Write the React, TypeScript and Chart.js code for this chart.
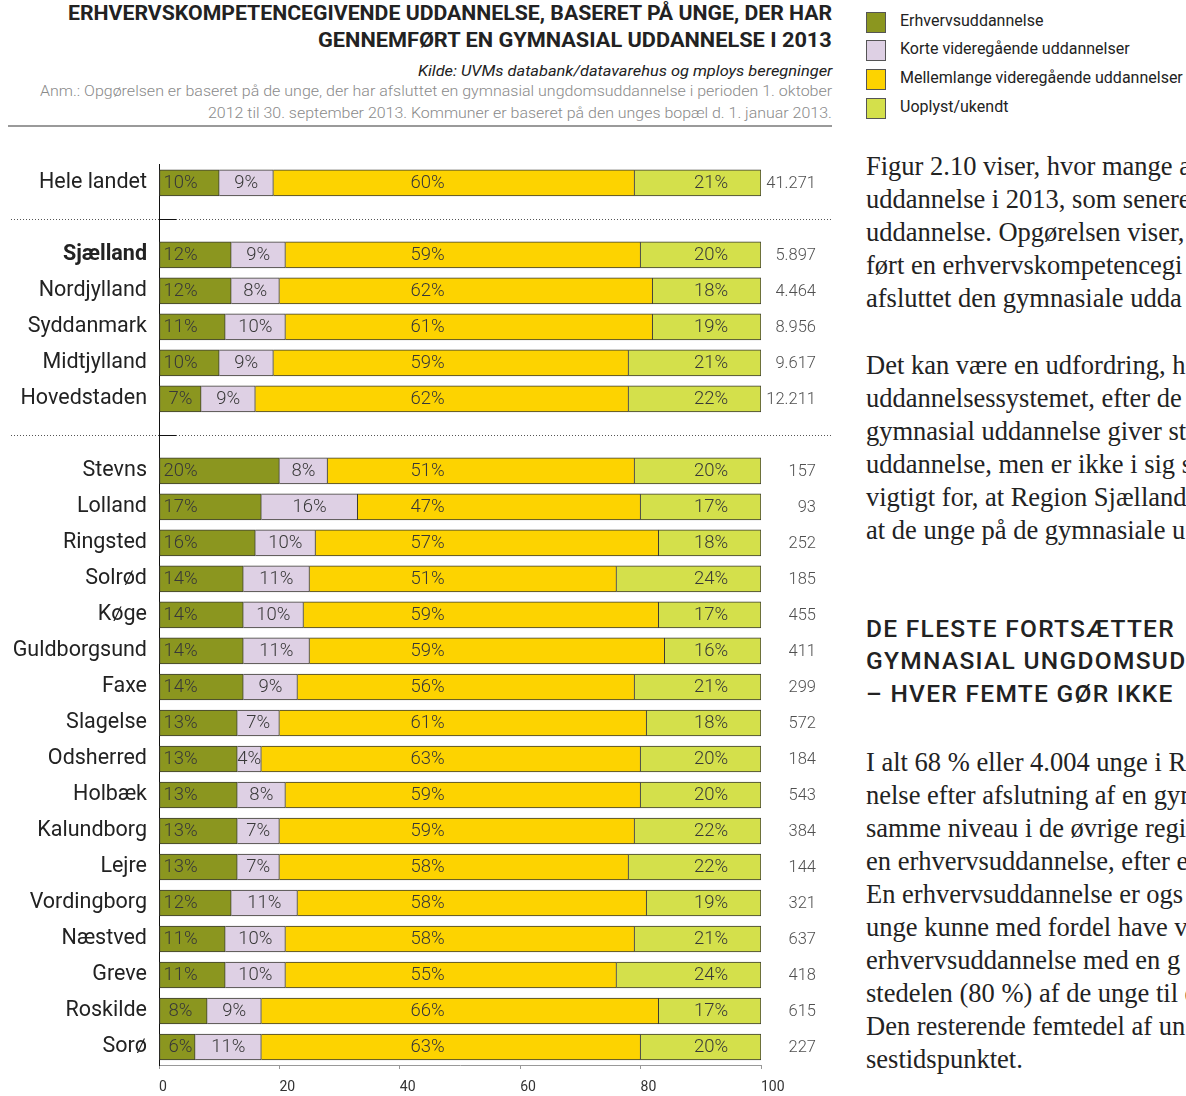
import React, { useEffect, useLayoutEffect, useRef, useState } from 'react';
import { Chart, registerables } from 'chart.js';

Chart.register(...registerables);

// ---------- data ----------
const categories = [
  'Hele landet', '', 'Sjælland', 'Nordjylland', 'Syddanmark', 'Midtjylland', 'Hovedstaden', '',
  'Stevns', 'Lolland', 'Ringsted', 'Solrød', 'Køge', 'Guldborgsund', 'Faxe', 'Slagelse', 'Odsherred',
  'Holbæk', 'Kalundborg', 'Lejre', 'Vordingborg', 'Næstved', 'Greve', 'Roskilde', 'Sorø',
];
const seriesNames = ['Erhvervsuddannelse', 'Korte videregående uddannelser', 'Mellemlange videregående uddannelser', 'Uoplyst/ukendt'];
const erhverv = [10, null, 12, 12, 11, 10, 7, null, 20, 17, 16, 14, 14, 14, 14, 13, 13, 13, 13, 13, 12, 11, 11, 8, 6];
const korte = [9, null, 9, 8, 10, 9, 9, null, 8, 16, 10, 11, 10, 11, 9, 7, 4, 8, 7, 7, 11, 10, 10, 9, 11];
const mellemlange = [60, null, 59, 62, 61, 59, 62, null, 51, 47, 57, 51, 59, 59, 56, 61, 63, 59, 59, 58, 58, 58, 55, 66, 63];
// printed labels of the last segment
const uoplystLabel = [21, null, 20, 18, 19, 21, 22, null, 20, 17, 18, 24, 17, 16, 21, 18, 20, 20, 22, 22, 19, 21, 24, 17, 20];
// drawn length of the last segment
const uoplystBar = [21, null, 20, 18, 18, 22, 22, null, 21, 20, 17, 24, 17, 16, 21, 19, 20, 20, 21, 22, 19, 21, 24, 17, 20];
const antal = [41271, null, 5897, 4464, 8956, 9617, 12211, null, 157, 93, 252, 185, 455, 411, 299, 572, 184, 543, 384, 144, 321, 637, 418, 615, 227];
const xMin = 0;
const xMax = 100;
const xStep = 20;

const COLORS = ['#8B961F', '#DED0E4', '#FDD300', '#D4E04B'];

const fmt = (n: number) => String(n).replace(/\B(?=(\d{3})+(?!\d))/g, '.');

// ---------- plugin for labels / separators ----------
const labelPlugin = {
  id: 'segLabels',
  afterDatasetsDraw(chart: any) {
    const { ctx, chartArea, scales } = chart;
    const yS = scales.y;
    ctx.save();
    // separators at empty categories
    categories.forEach((c, i) => {
      if (c !== '') return;
      const py = Math.round(yS.getPixelForValue(i)) + 0.5;
      ctx.lineWidth = 1;
      ctx.strokeStyle = '#555';
      ctx.setLineDash([1, 2]);
      ctx.beginPath();
      ctx.moveTo(11, py);
      ctx.lineTo(833, py);
      ctx.stroke();
      ctx.setLineDash([]);
      ctx.strokeStyle = '#111';
      ctx.beginPath();
      ctx.moveTo(chartArea.left, py);
      ctx.lineTo(chartArea.left + 17, py);
      ctx.stroke();
    });
    // segment labels
    ctx.font = '300 18.5px Roboto';
    ctx.fillStyle = '#383838';
    ctx.textBaseline = 'middle';
    ctx.textAlign = 'center';
    const labelSets = [erhverv, korte, mellemlange, uoplystLabel];
    labelSets.forEach((arr, di) => {
      const meta = chart.getDatasetMeta(di);
      meta.data.forEach((bar: any, i: number) => {
        const v = arr[i];
        if (v == null) return;
        const { x, base, y } = bar.getProps(['x', 'base', 'y'], true);
        let cx: number;
        if (di === 0) cx = base + 21;
        else if (di === 1) cx = (base + x) / 2;
        else if (di === 2) cx = chartArea.left + 268.5;
        else cx = x - 50;
        ctx.fillText(v + '%', cx, y);
      });
    });
    // counts on the right
    ctx.font = '300 16.5px Roboto';
    ctx.fillStyle = '#505050';
    ctx.textAlign = 'right';
    antal.forEach((n, i) => {
      if (n == null) return;
      ctx.fillText(fmt(n), chartArea.right + 55, yS.getPixelForValue(i) + 0.5);
    });
    ctx.restore();
  },
};

// ---------- text helpers ----------
function FitLine({ text, right, top, width, style }: any) {
  const ref = useRef<HTMLSpanElement>(null);
  const [scale, setScale] = useState(1);
  useLayoutEffect(() => {
    if (ref.current) {
      const w = ref.current.offsetWidth;
      if (w > 0) setScale(width / w);
    }
  }, [text, width]);
  return (
    <span
      ref={ref}
      style={{
        position: 'absolute',
        right: 1186 - right,
        top,
        whiteSpace: 'nowrap',
        transformOrigin: 'right center',
        transform: `scaleX(${scale})`,
        ...style,
      }}
    >
      {text}
    </span>
  );
}

const para1 = [
  'Figur 2.10 viser, hvor mange a',
  'uddannelse i 2013, som senere',
  'uddannelse. Opgørelsen viser,',
  'ført en erhvervskompetencegi',
  'afsluttet den gymnasiale udda',
];
const para2 = [
  'Det kan være en udfordring, h',
  'uddannelsessystemet, efter de',
  'gymnasial uddannelse giver st',
  'uddannelse, men er ikke i sig s',
  'vigtigt for, at Region Sjælland',
  'at de unge på de gymnasiale u',
];
const heading = ['DE FLESTE FORTSÆTTER', 'GYMNASIAL UNGDOMSUDD', '– HVER FEMTE GØR IKKE'];
const para3 = [
  'I alt 68 % eller 4.004 unge i Re',
  'nelse efter afslutning af en gym',
  'samme niveau i de øvrige regi',
  'en erhvervsuddannelse, efter e',
  'En erhvervsuddannelse er ogs',
  'unge kunne med fordel have v',
  'erhvervsuddannelse med en g',
  'stedelen (80 %) af de unge til e',
  'Den resterende femtedel af un',
  'sestidspunktet.',
];

function Lines({ lines, top, lineHeight, style }: any) {
  return (
    <div style={{ position: 'absolute', left: 866, top, whiteSpace: 'nowrap', lineHeight: lineHeight + 'px', ...style }}>
      {lines.map((l: string, i: number) => (
        <div key={i}>{l}</div>
      ))}
    </div>
  );
}

export default function App() {
  const canvasRef = useRef<HTMLCanvasElement>(null);

  useEffect(() => {
    const canvas = canvasRef.current;
    if (!canvas) return;
    const seriesBars = [erhverv, korte, mellemlange, uoplystBar];
    const chart = new Chart(canvas, {
      type: 'bar',
      data: {
        labels: categories,
        datasets: seriesBars.map((d, i) => ({
          label: seriesNames[i],
          data: d as any,
          backgroundColor: COLORS[i],
          borderColor: '#3b3b33',
          borderWidth: { top: 1, bottom: 1, right: 1, left: i === 0 ? 1 : 0 } as any,
          borderSkipped: false,
          barThickness: 26,
        })),
      },
      options: {
        indexAxis: 'y',
        responsive: false,
        animation: false,
        devicePixelRatio: 1,
        layout: { padding: { left: 0, right: 84, top: 22, bottom: 0 } },
        plugins: { legend: { display: false }, tooltip: { enabled: false } },
        scales: {
          x: {
            stacked: true,
            min: xMin,
            max: xMax,
            ticks: {
              stepSize: xStep,
              align: 'start',
              padding: 10,
              color: '#333',
              font: { family: 'Roboto', size: 14 },
            },
            grid: { drawOnChartArea: false, drawTicks: true, tickLength: 4, color: '#999' },
            border: { color: '#999' },
            afterFit: (s: any) => {
              s.height = 31;
            },
          } as any,
          y: {
            stacked: true,
            ticks: {
              autoSkip: false,
              padding: 12,
              color: '#222',
              font: (ctx: any) => ({ family: 'Roboto', size: 21.5, weight: ctx.index === 2 ? 'bold' : 'normal' }),
            },
            grid: { display: false, drawTicks: false },
            border: { color: '#111' },
            afterFit: (s: any) => {
              s.width = 159;
            },
          } as any,
        },
      },
      plugins: [labelPlugin],
    });
    return () => chart.destroy();
  }, []);

  const serif = { fontFamily: '"Liberation Serif", serif', fontSize: 26.5, color: '#222' };

  return (
    <div
      style={{
        position: 'absolute',
        left: 0,
        top: 0,
        width: 1186,
        height: 1096,
        overflow: 'hidden',
        background: '#fff',
        fontFamily: 'Roboto',
        color: '#222',
      }}
    >
      {/* title block */}
      <FitLine text="ERHVERVSKOMPETENCEGIVENDE UDDANNELSE, BASERET PÅ UNGE, DER HAR" right={832} top={1} width={764}
        style={{ fontWeight: 700, fontSize: 20, lineHeight: '24px', color: '#222' }} />
      <FitLine text="GENNEMFØRT EN GYMNASIAL UDDANNELSE I 2013" right={832} top={28} width={514}
        style={{ fontWeight: 700, fontSize: 20, lineHeight: '24px', color: '#222' }} />
      <FitLine text="Kilde: UVMs databank/datavarehus og mploys beregninger" right={832} top={62} width={414}
        style={{ fontStyle: 'italic', fontSize: 15, lineHeight: '18px', color: '#222' }} />
      <FitLine text="Anm.: Opgørelsen er baseret på de unge, der har afsluttet en gymnasial ungdomsuddannelse i perioden 1. oktober" right={832} top={82} width={792}
        style={{ fontWeight: 300, fontSize: 15, lineHeight: '18px', color: '#8a8a8a' }} />
      <FitLine text="2012 til 30. september 2013. Kommuner er baseret på den unges bopæl d. 1. januar 2013." right={832} top={104} width={624}
        style={{ fontWeight: 300, fontSize: 15, lineHeight: '18px', color: '#8a8a8a' }} />
      <div style={{ position: 'absolute', left: 8, top: 125, width: 824, height: 2, background: '#9a9a9a' }} />

      {/* legend */}
      {seriesNames.map((name, i) => {
        const cy = 22 + i * 28.7;
        return (
          <React.Fragment key={name}>
            <div
              style={{
                position: 'absolute',
                left: 866,
                top: cy - 10.5,
                width: 20,
                height: 21,
                boxSizing: 'border-box',
                border: '1px solid #555',
                background: COLORS[i],
              }}
            />
            <div style={{ position: 'absolute', left: 900, top: cy - 11.5, fontSize: 16, lineHeight: '20px', whiteSpace: 'nowrap', color: '#222' }}>
              {name}
            </div>
          </React.Fragment>
        );
      })}

      {/* body text */}
      <Lines lines={para1} top={150} lineHeight={33} style={serif} />
      <Lines lines={para2} top={349} lineHeight={33} style={serif} />
      <Lines lines={heading} top={612.5} lineHeight={32.5} style={{ fontFamily: 'Roboto', fontWeight: 500, fontSize: 24.5, letterSpacing: '1.3px', color: '#222' }} />
      <Lines lines={para3} top={745.5} lineHeight={33.1} style={serif} />

      {/* chart */}
      <canvas
        ref={canvasRef}
        width={845}
        height={956}
        style={{ position: 'absolute', left: 0, top: 140, width: 845, height: 956, display: 'block' }}
      />
    </div>
  );
}
